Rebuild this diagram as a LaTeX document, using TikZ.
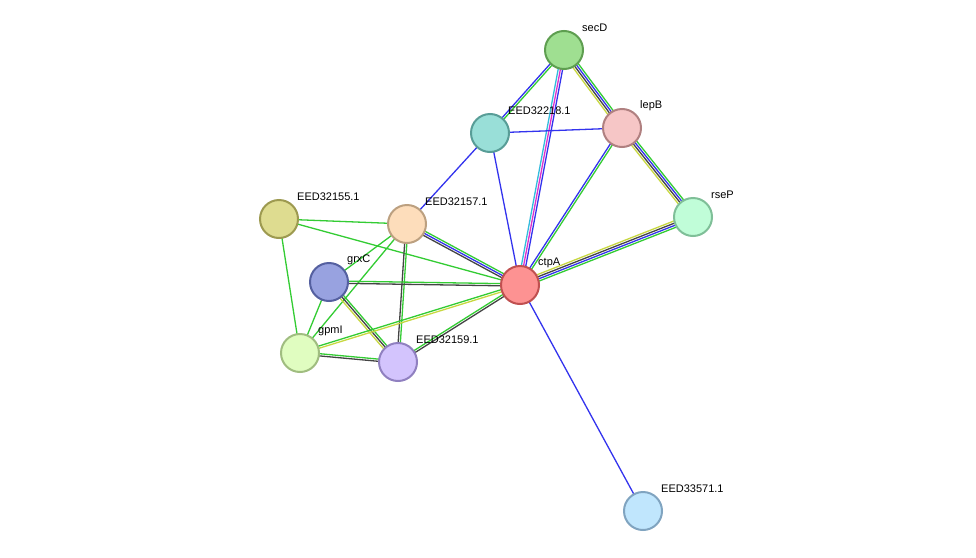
\documentclass[tikz,border=0pt]{standalone}
\usepackage{fontspec}
\setmainfont{Liberation Sans}
\usetikzlibrary{calc,backgrounds}
\tikzset{
 prot/.style={circle,draw,line width=2pt,minimum size=38pt,inner sep=0pt},
 lab/.style={anchor=west,font=\fontsize{11pt}{13pt}\selectfont,inner sep=0pt},
}
\definecolor{eg}{HTML}{33CC33}
\definecolor{eb}{HTML}{3333EE}
\definecolor{ey}{HTML}{C8D840}
\definecolor{ek}{HTML}{444444}
\definecolor{ec}{HTML}{33BBDD}
\definecolor{em}{HTML}{DD33CC}
\newcommand\pedge[4]{%
 \foreach \cc [count=\ii] in {#4}{%
  \pgfmathsetmacro\off{(\ii-(#3+1)/2)*2.2}
  \draw[\cc,line width=1.3pt] ($(#1.center)!\off pt!90:(#2.center)$) -- ($(#2.center)!\off pt!-90:(#1.center)$);
 }}
\newcommand\prot[6]{%
 \definecolor{f#1}{HTML}{#4}\definecolor{d#1}{HTML}{#5}%
 \node[prot,fill=f#1,draw=d#1] (#1) at (#2,#3) {};
 \node[lab] (#1l) at (#2+18,#3-22) {#6};}
\begin{document}
\begin{tikzpicture}[x=1pt,y=-1pt]
\useasboundingbox (0,0) rectangle (976,557);
\prot{secD}{564}{50}{9FDF91}{5E9E50}{secD}
\prot{e218}{490}{133}{99DFD8}{589D97}{EED32218.1}
\prot{lepB}{622}{128}{F6C6C6}{B08080}{lepB}
\prot{rseP}{693}{217}{C0FDD8}{7FBF98}{rseP}
\prot{e155}{279}{219}{DEDC90}{9D9A50}{EED32155.1}
\prot{e157}{407}{224}{FDDDBB}{BCA080}{EED32157.1}
\prot{grxC}{329}{282}{98A2E0}{5560A0}{grxC}
\prot{ctpA}{520}{285}{FD9292}{C05050}{ctpA}
\prot{gpmI}{300}{353}{E0FDC0}{A0BD80}{gpmI}
\prot{e159}{398}{362}{D3C4FD}{9080C0}{EED32159.1}
\prot{e571}{643}{511}{C0E6FD}{80A4C0}{EED33571.1}
\begin{scope}[on background layer]
\fill[white] (0,0) rectangle (976,557);
\pedge{secD}{e218}{2}{eb,eg}
\pedge{secD}{ctpA}{3}{ec,em,eb}
\pedge{secD}{lepB}{4}{ey,ek,eb,eg}
\pedge{e218}{lepB}{1}{eb}
\pedge{e218}{ctpA}{1}{eb}
\pedge{e218}{e157}{1}{eb}
\pedge{lepB}{ctpA}{2}{eb,eg}
\pedge{lepB}{rseP}{4}{ey,ek,eb,eg}
\pedge{rseP}{ctpA}{4}{ey,ek,eb,eg}
\pedge{e155}{e157}{1}{eg}
\pedge{e155}{ctpA}{1}{eg}
\pedge{e155}{gpmI}{1}{eg}
\pedge{e157}{ctpA}{3}{ek,eb,eg}
\pedge{e157}{grxC}{1}{eg}
\pedge{e157}{gpmI}{1}{eg}
\pedge{e157}{e159}{2}{ek,eg}
\pedge{grxC}{ctpA}{2}{ek,eg}
\pedge{grxC}{gpmI}{1}{eg}
\pedge{grxC}{e159}{3}{ey,ek,eg}
\pedge{gpmI}{ctpA}{2}{ey,eg}
\pedge{gpmI}{e159}{2}{ek,eg}
\pedge{e159}{ctpA}{2}{ek,eg}
\pedge{ctpA}{e571}{1}{eb}
\end{scope}
\end{tikzpicture}
\end{document}
